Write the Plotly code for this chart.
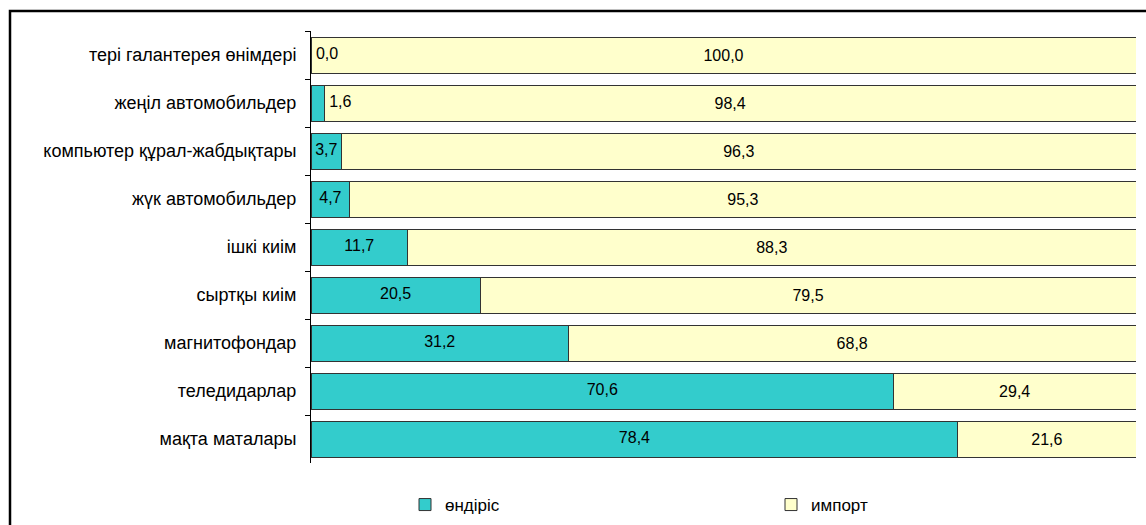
import plotly.graph_objects as go

# categories listed top to bottom as in the picture
categories = ["тері галантерея өнімдері", "жеңіл автомобильдер", "компьютер құрал-жабдықтары",
              "жүк автомобильдер", "ішкі киім", "сыртқы киім", "магнитофондар",
              "теледидарлар", "мақта маталары"]
ondiris = [0.0, 1.6, 3.7, 4.7, 11.7, 20.5, 31.2, 70.6, 78.4]
import_ = [100.0, 98.4, 96.3, 95.3, 88.3, 79.5, 68.8, 29.4, 21.6]
series_names = ["өндіріс", "импорт"]


def fmt(v):
    return f"{v:.1f}".replace(".", ",")


FAM = "Liberation Sans, Arial, sans-serif"
VAL_FONT = dict(family=FAM, size=16, color="black")
CAT_FONT = dict(family=FAM, size=18, color="black")
LEG_FONT = dict(family=FAM, size=17, color="black")
W, H = 1146, 525
L, R, T, B = 311, 10, 31, 62
pw, ph = W - L - R, H - T - B


def px_x(p):
    return (p - L) / pw


def px_y(p):
    return (T + ph - p) / ph


fig = go.Figure()
fig.add_trace(go.Bar(y=categories, x=ondiris, orientation="h", name=series_names[0],
                     marker=dict(color="#33CCCC", line=dict(color="#333333", width=1)),
                     legend="legend", hoverinfo="skip"))
fig.add_trace(go.Bar(y=categories, x=import_, orientation="h", name=series_names[1],
                     marker=dict(color="#FFFFCC", line=dict(color="#333333", width=1)),
                     text=[fmt(v) for v in import_], textposition="inside",
                     insidetextanchor="middle", textangle=0, constraintext="none",
                     textfont=VAL_FONT, legend="legend2", hoverinfo="skip"))

# labels of the first series: centred in the bar, pushed past the end when too narrow
lab_x = [v / 2 if v >= 3 else v + 0.6 for v in ondiris]
lab_pos = ["middle center" if v >= 3 else "middle right" for v in ondiris]
fig.add_trace(go.Scatter(y=categories, x=lab_x, mode="text", text=[fmt(v) for v in ondiris],
                         textposition=lab_pos, textfont=VAL_FONT, showlegend=False,
                         hoverinfo="skip", cliponaxis=False))

leg = dict(orientation="h", xanchor="left", yanchor="middle", font=LEG_FONT,
           bgcolor="rgba(0,0,0,0)")
fig.update_layout(
    width=W, height=H, barmode="stack", bargap=0.25,
    margin=dict(l=L, r=R, t=T, b=B, autoexpand=False),
    paper_bgcolor="white", plot_bgcolor="white",
    font=VAL_FONT,
    xaxis=dict(range=[0, 100], visible=False, fixedrange=True),
    yaxis=dict(autorange="reversed", showline=True, linecolor="black", linewidth=1,
               ticks="outside", ticklen=5, tickcolor="black", tickson="boundaries",
               showgrid=False, ticksuffix="  ", tickfont=CAT_FONT, automargin=False),
    legend=dict(leg, x=px_x(405), y=px_y(505)),
    legend2=dict(leg, x=px_x(771), y=px_y(505)),
    showlegend=True,
)

# outer chart frame (runs off the right and bottom edges in the picture)
fig.add_shape(type="rect", xref="paper", yref="paper",
              x0=px_x(10), x1=px_x(W + 20), y0=px_y(H + 20), y1=px_y(11),
              line=dict(color="black", width=2.5), fillcolor="rgba(0,0,0,0)", layer="below")

fig.write_html("out.html", config={"displayModeBar": False},
               post_script="document.body.style.margin='0';")
